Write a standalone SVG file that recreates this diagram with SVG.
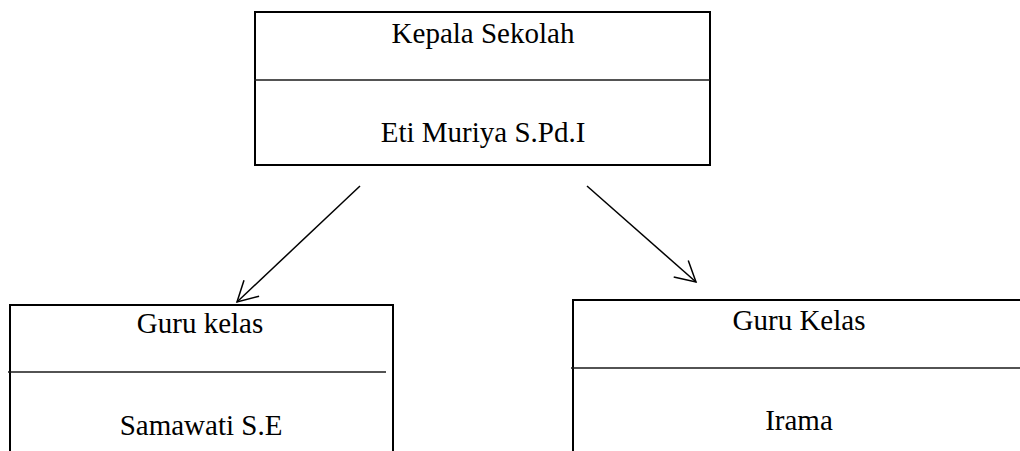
<svg xmlns="http://www.w3.org/2000/svg" width="1020" height="451" viewBox="0 0 1020 451">
  <style>
    .box { fill: #ffffff; stroke: #000000; stroke-width: 2; }
    .div { stroke: #1a1a1a; stroke-width: 1.6; fill: none; }
    .lbl { font-family: "Liberation Serif", "Times New Roman", serif; font-size: 29px; fill: #000000; text-anchor: middle; }
    .conn { stroke: #000000; stroke-width: 1.5; fill: none; }
  </style>
  <defs>
    <marker id="arrow" markerUnits="userSpaceOnUse" markerWidth="24" markerHeight="26" refX="0" refY="0" viewBox="-22 -13 24 26" orient="auto">
      <path d="M -20 -11 L 0 0 L -20 11" fill="none" stroke="#000000" stroke-width="1.5"/>
    </marker>
  </defs>
  <rect width="1020" height="451" fill="#ffffff"/>

  <g id="connectors">
    <line class="conn" x1="360" y1="186" x2="237" y2="302" marker-end="url(#arrow)"/>
    <line class="conn" x1="587" y1="186" x2="696" y2="282" marker-end="url(#arrow)"/>
  </g>

  <g id="kepala-sekolah">
    <rect class="box" x="255" y="12" width="455" height="153"/>
    <line class="div" x1="254" y1="80" x2="710" y2="80"/>
    <text class="lbl" x="483" y="43">Kepala Sekolah</text>
    <text class="lbl" x="483" y="142">Eti Muriya S.Pd.I</text>
  </g>

  <g id="guru-kelas-1">
    <rect class="box" x="10" y="305" width="383" height="160"/>
    <line class="div" x1="8" y1="372" x2="386" y2="372"/>
    <text class="lbl" x="200" y="333">Guru kelas</text>
    <text class="lbl" x="201" y="435">Samawati S.E</text>
  </g>

  <g id="guru-kelas-2">
    <rect class="box" x="573" y="300" width="460" height="160"/>
    <line class="div" x1="571" y1="368" x2="1020" y2="368"/>
    <text class="lbl" x="799" y="330">Guru Kelas</text>
    <text class="lbl" x="799" y="430">Irama</text>
  </g>
</svg>
